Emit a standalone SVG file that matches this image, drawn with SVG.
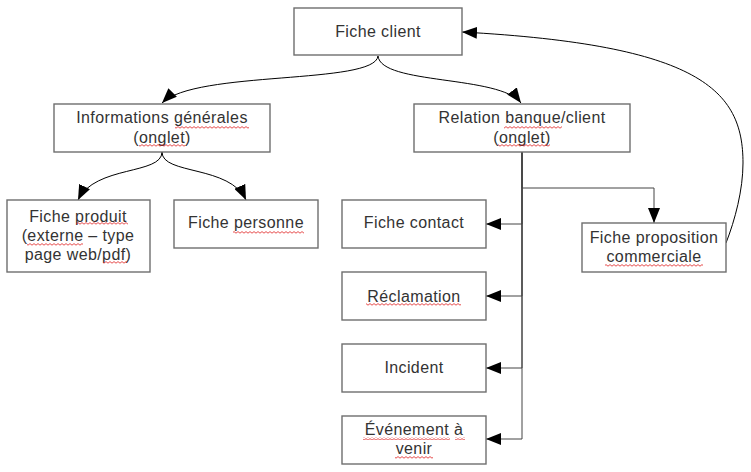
<svg xmlns="http://www.w3.org/2000/svg" width="751" height="472" viewBox="0 0 751 472">
<style>
.box{fill:#fff;stroke:#6e6e6e;stroke-width:1.4}
.t{font-family:"Liberation Sans",Arial,sans-serif;font-size:16px;letter-spacing:0.4px;fill:#333;text-anchor:middle}
.c{fill:none;stroke:#000;stroke-width:1}
.g{fill:none;stroke:#444;stroke-width:1}
.sq{fill:url(#squig)}
</style>
<defs>
<marker id="ah" markerUnits="userSpaceOnUse" markerWidth="16" markerHeight="12" refX="15" refY="6" orient="auto">
<path d="M0,0 L15,6 L0,12 Z" fill="#000"/>
</marker>
<pattern id="squig" patternUnits="userSpaceOnUse" width="4" height="3">
<path d="M0,2.2 L2,0.6 L4,2.2" fill="none" stroke="#e02020" stroke-width="0.8"/>
</pattern>
</defs>
<g id="connectors">
<path class="c" d="M378,56 C375,85 195,70 162,103" marker-end="url(#ah)"/>
<path class="c" d="M378,56 C381,85 500,75 521,103" marker-end="url(#ah)"/>
<path class="c" d="M162,152 C162,175 95,165 78,200" marker-end="url(#ah)"/>
<path class="c" d="M162,152 C162,175 230,165 246,200" marker-end="url(#ah)"/>
<path class="g" d="M522,152 V188 H654 V223" marker-end="url(#ah)"/>
<path class="g" d="M522,152 V224 H486" marker-end="url(#ah)"/>
<path class="g" d="M522,152 V296 H486" marker-end="url(#ah)"/>
<path class="g" d="M522,152 V368 H486" marker-end="url(#ah)"/>
<path class="g" d="M522,152 V439 H486" marker-end="url(#ah)"/>
<path class="c" d="M726,243 C735,220 743,190 743,163 C743,90 700,45 462,32" marker-end="url(#ah)"/>
</g>
<g id="fiche-client">
<rect class="box" x="294" y="8" width="168" height="47"/>
<text class="t" x="378" y="37">Fiche client</text>
</g>
<g id="informations-generales">
<rect class="box" x="54" y="104" width="216" height="48"/>
<text class="t" x="162" y="123">Informations générales</text>
<text class="t" x="162" y="143">(onglet)</text>
</g>
<g id="relation-banque-client">
<rect class="box" x="414" y="104" width="216" height="48"/>
<text class="t" x="522" y="123">Relation banque/client</text>
<text class="t" x="522" y="143">(onglet)</text>
</g>
<g id="fiche-produit">
<rect class="box" x="7" y="200" width="143" height="72"/>
<text class="t" x="78" y="222">Fiche produit</text>
<text class="t" x="78" y="241">(externe – type</text>
<text class="t" x="78" y="260">page web/pdf)</text>
</g>
<g id="fiche-personne">
<rect class="box" x="174" y="200" width="144" height="48"/>
<text class="t" x="246" y="228">Fiche personne</text>
</g>
<g id="fiche-contact">
<rect class="box" x="342" y="200" width="144" height="48"/>
<text class="t" x="414" y="228">Fiche contact</text>
</g>
<g id="reclamation">
<rect class="box" x="342" y="272" width="144" height="48"/>
<text class="t" x="414" y="302">Réclamation</text>
</g>
<g id="incident">
<rect class="box" x="342" y="344" width="144" height="48"/>
<text class="t" x="414" y="373">Incident</text>
</g>
<g id="evenement-a-venir">
<rect class="box" x="342" y="416" width="144" height="48"/>
<text class="t" x="414" y="435">Événement à</text>
<text class="t" x="414" y="454">venir</text>
</g>
<g id="fiche-proposition-commerciale">
<rect class="box" x="582" y="223" width="144" height="49"/>
<text class="t" x="654" y="243">Fiche proposition</text>
<text class="t" x="654" y="262">commerciale</text>
</g>
<g id="spellcheck">
<rect class="sq" x="175" y="126" width="74" height="3"/>
<rect class="sq" x="139" y="144" width="46" height="3"/>
<rect class="sq" x="504" y="126" width="58" height="3"/>
<rect class="sq" x="498" y="144" width="52" height="3"/>
<rect class="sq" x="76" y="222" width="52" height="3"/>
<rect class="sq" x="27" y="243" width="56" height="3"/>
<rect class="sq" x="103" y="261" width="24" height="3"/>
<rect class="sq" x="233" y="231" width="71" height="3"/>
<rect class="sq" x="366" y="303" width="95" height="3"/>
<rect class="sq" x="605" y="264" width="98" height="3"/>
<rect class="sq" x="363" y="437" width="87" height="3"/>
<rect class="sq" x="455" y="437" width="10" height="3"/>
<rect class="sq" x="395" y="456" width="38" height="3"/>
</g>
</svg>
